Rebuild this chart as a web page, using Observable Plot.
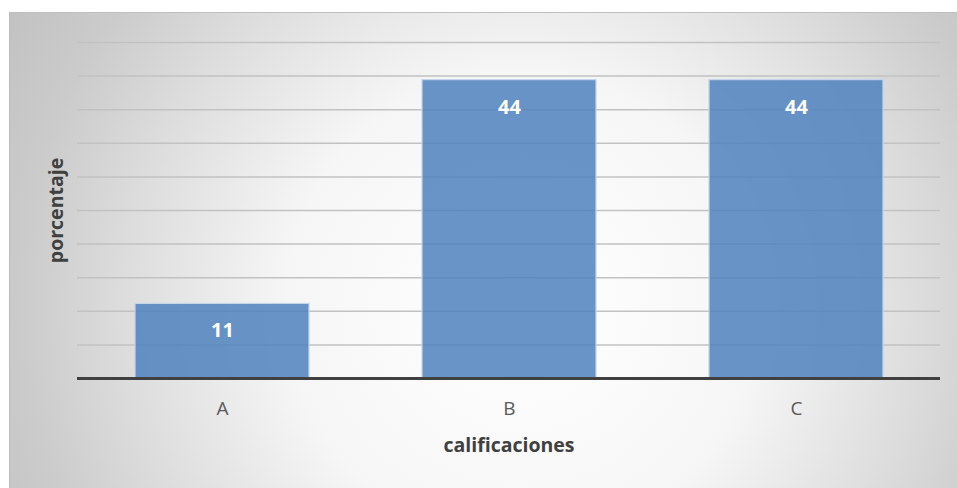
<!DOCTYPE html>
<html>
<head>
<meta charset="utf-8">
<script src="https://cdn.jsdelivr.net/npm/d3@7"></script>
<script src="https://cdn.jsdelivr.net/npm/@observablehq/plot@0.6"></script>
<style>
  html, body { margin: 0; padding: 0; background: #ffffff; }
  #wrap { position: relative; width: 957px; height: 488px; overflow: hidden; background: #ffffff; }
  #bg { position: absolute; left: 9px; top: 12px; right: 0; bottom: 0;
        border-top: 1px solid #bfbfbf; border-left: 1px solid #bcbcbc;
        background: radial-gradient(circle farthest-corner at 54% 62%, #ffffff 0%, #f6f6f6 40%, #dcdcdc 68%, #cbcbcb 85%, #c2c2c2 100%); }
  #chart { position: absolute; left: 0; top: 0; }
</style>
</head>
<body>
<div id="wrap"><div id="bg"></div><div id="chart"></div></div>
<script>
const categories = ["A", "B", "C"];
const values = [11.1, 44.4, 44.4];
const gridTicks = [5, 10, 15, 20, 25, 30, 35, 40, 45, 50];
const xTitle = "calificaciones";
const yTitle = "porcentaje";

const data = categories.map((c, i) => ({cat: c, val: values[i]}));

const chart = Plot.plot({
  width: 957,
  height: 488,
  marginLeft: 77,
  marginRight: 17,
  marginTop: 42,
  marginBottom: 110,
  style: {background: "transparent", fontFamily: "'Open Sans', sans-serif"},
  x: {domain: categories, paddingInner: 0.395, paddingOuter: 0.1975},
  y: {domain: [0, 50]},
  marks: [
    Plot.ruleY(gridTicks, {stroke: "#c2c2c2", strokeWidth: 1.5}),
    Plot.barY(data, {x: "cat", y: "val", fill: "#4f81bd", fillOpacity: 0.85, stroke: "#c5d5ea", strokeWidth: 1.2}),
    Plot.ruleY([0], {stroke: "#404040", strokeWidth: 3}),
    Plot.text(data, {x: "cat", y: "val", text: d => String(Math.round(d.val)), dy: 27, fill: "#ffffff", fontWeight: "bold", fontSize: 20}),
    Plot.axisX({tickSize: 0, tickPadding: 23, fontSize: 19, color: "#595959", label: null}),
    Plot.axisY({ticks: [], label: null}),
    Plot.text([xTitle], {frameAnchor: "bottom", dy: 73, fontSize: 19.5, fontWeight: "bold", fill: "#404040"}),
    Plot.text([yTitle], {frameAnchor: "left", textAnchor: "middle", dx: -21, rotate: -90, fontSize: 19.5, fontWeight: "bold", fill: "#404040"})
  ]
});
document.getElementById("chart").appendChild(chart);
</script>
</body>
</html>
